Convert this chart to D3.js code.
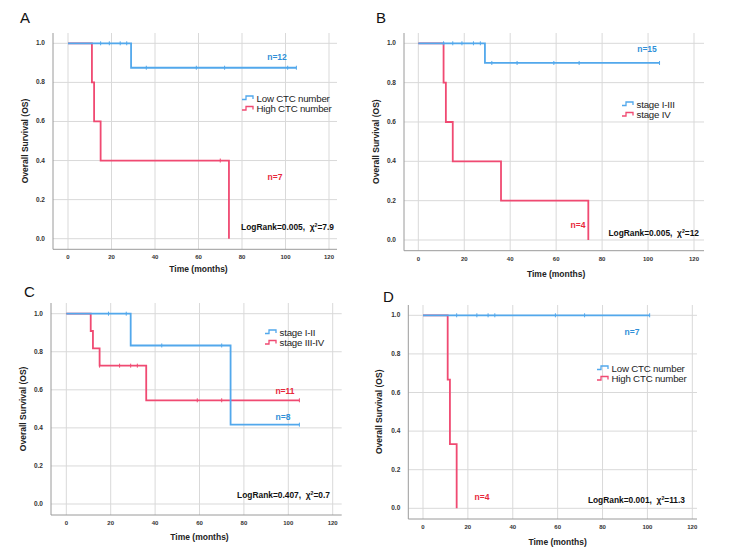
<!DOCTYPE html>
<html><head><meta charset="utf-8">
<script src="https://cdn.jsdelivr.net/npm/d3@7"></script>
<style>body{margin:0;background:#fff}svg{display:block}</style>
</head><body>
<script>
// ---------- data ----------
const xTicks = [0, 20, 40, 60, 80, 100, 120];
const yTicks = [0, 0.2, 0.4, 0.6, 0.8, 1.0];

// Panel A
const A_lowTime = [0, 29, 105];
const A_lowSurv = [1, 0.875, 0.875];
const A_lowCensT = [15, 19, 24, 27, 36, 59, 72, 101, 105];
const A_lowCensS = [1, 1, 1, 1, 0.875, 0.875, 0.875, 0.875, 0.875];
const A_highTime = [0, 11, 12, 15, 74];
const A_highSurv = [1, 0.8, 0.6, 0.4, 0];
const A_highCensT = [70];
const A_highCensS = [0.4];

// Panel B
const B_lowTime = [0, 29, 105];
const B_lowSurv = [1, 0.9, 0.9];
const B_lowCensT = [11, 15, 19, 24, 27, 32, 43, 59, 70, 105];
const B_lowCensS = [1, 1, 1, 1, 1, 0.9, 0.9, 0.9, 0.9, 0.9];
const B_highTime = [0, 11, 12, 15, 36, 74];
const B_highSurv = [1, 0.8, 0.6, 0.4, 0.2, 0];
const B_highCensT = [];
const B_highCensS = [];

// Panel C
const C_lowTime = [0, 29, 74, 105];
const C_lowSurv = [1, 0.833, 0.417, 0.417];
const C_lowCensT = [19, 27, 43, 70, 105];
const C_lowCensS = [1, 1, 0.833, 0.833, 0.417];
const C_highTime = [0, 11, 12, 15, 36, 105];
const C_highSurv = [1, 0.909, 0.818, 0.727, 0.545, 0.545];
const C_highCensT = [15, 24, 29, 32, 59, 70, 105];
const C_highCensS = [0.727, 0.727, 0.727, 0.727, 0.545, 0.545, 0.545];

// Panel D
const D_lowTime = [0, 101];
const D_lowSurv = [1, 1];
const D_lowCensT = [15, 24, 29, 32, 59, 72, 101];
const D_lowCensS = [1, 1, 1, 1, 1, 1, 1];
const D_highTime = [0, 11, 12, 15];
const D_highSurv = [1, 0.667, 0.333, 0];
const D_highCensT = [];
const D_highCensS = [];

const panelLetters = ["A", "B", "C", "D"];
const legendA = ["Low CTC number", "High CTC number"];
const legendB = ["stage I-III", "stage IV"];
const legendC = ["stage I-II", "stage III-IV"];
const legendD = ["Low CTC number", "High CTC number"];
const nLowLabels = ["n=12", "n=15", "n=8", "n=7"];
const nHighLabels = ["n=7", "n=4", "n=11", "n=4"];
const logRankP = ["0.005", "0.005", "0.407", "0.001"];
const chiSq = ["7.9", "12", "0.7", "11.3"];

// ---------- layout ----------
const BLUE = "#52a8ec", RED = "#f04a72";
const layouts = [
  {ax:53, top:33, axY:249.3, right:337, x0:68, x1:329, y0:238.7, y1:43.3,
   letter:[20,23], ytitleX:25, xtitleY:272, nLow:[277,60], nHigh:[275,180], lr:[334,230], leg:[242,98]},
  {ax:404, top:33, axY:250.7, right:704, x0:418.3, x1:694, y0:240, y1:43.3,
   letter:[376,23], ytitleX:376, xtitleY:277, nLow:[647,52], nHigh:[578,228], lr:[699,236], leg:[622,104]},
  {ax:51, top:303, axY:515, right:341.7, x0:66.3, x1:332.7, y0:504, y1:313.7,
   letter:[24,297], ytitleX:23, xtitleY:540, nLow:[283,420], nHigh:[285,394], lr:[330,498], leg:[265,332]},
  {ax:408.3, top:305, axY:519, right:697, x0:423, x1:692.3, y0:508.3, y1:315.3,
   letter:[383,302], ytitleX:379, xtitleY:545, nLow:[632,335], nHigh:[482,500], lr:[685,503], leg:[597,368]}
];

const panels = [
  {low:[A_lowTime,A_lowSurv,A_lowCensT,A_lowCensS], high:[A_highTime,A_highSurv,A_highCensT,A_highCensS], legend:legendA},
  {low:[B_lowTime,B_lowSurv,B_lowCensT,B_lowCensS], high:[B_highTime,B_highSurv,B_highCensT,B_highCensS], legend:legendB},
  {low:[C_lowTime,C_lowSurv,C_lowCensT,C_lowCensS], high:[C_highTime,C_highSurv,C_highCensT,C_highCensS], legend:legendC},
  {low:[D_lowTime,D_lowSurv,D_lowCensT,D_lowCensS], high:[D_highTime,D_highSurv,D_highCensT,D_highCensS], legend:legendD}
];

const svg = d3.select("body").append("svg").attr("width", 729).attr("height", 559)
  .style("font-family", "'Liberation Sans', Arial, sans-serif");

panels.forEach((p, i) => {
  const L = layouts[i];
  const g = svg.append("g");
  const x = d3.scaleLinear().domain([0, 120]).range([L.x0, L.x1]);
  const y = d3.scaleLinear().domain([0, 1]).range([L.y0, L.y1]);

  // grid
  g.selectAll(".vg").data(xTicks).join("line")
    .attr("x1", d => x(d)).attr("x2", d => x(d)).attr("y1", L.top).attr("y2", L.axY)
    .attr("stroke", "#d9d9d9").attr("stroke-width", 1);
  g.selectAll(".hg").data(yTicks).join("line")
    .attr("x1", L.ax).attr("x2", L.right).attr("y1", d => y(d)).attr("y2", d => y(d))
    .attr("stroke", "#d9d9d9").attr("stroke-width", 1);

  // axes lines
  g.append("line").attr("x1", L.ax).attr("x2", L.ax).attr("y1", L.top).attr("y2", L.axY)
    .attr("stroke", "#9a9a9a").attr("stroke-width", 1);
  g.append("line").attr("x1", L.ax).attr("x2", L.right).attr("y1", L.axY).attr("y2", L.axY)
    .attr("stroke", "#9a9a9a").attr("stroke-width", 1);

  // tick labels
  g.selectAll(".xt").data(xTicks).join("text")
    .attr("x", d => x(d)).attr("y", L.axY + 10).attr("text-anchor", "middle")
    .attr("font-size", 6).attr("font-weight", "bold").attr("fill", "#333").text(d => d);
  g.selectAll(".yt").data(yTicks).join("text")
    .attr("x", L.ax - 8).attr("y", d => y(d) + 2).attr("text-anchor", "end")
    .attr("font-size", 6.5).attr("font-weight", "bold").attr("fill", "#333").text(d => d.toFixed(1));

  // titles
  g.append("text").attr("x", (L.x0 + L.x1) / 2).attr("y", L.xtitleY).attr("text-anchor", "middle")
    .attr("font-size", 8.5).attr("font-weight", "bold").attr("fill", "#222").text("Time (months)");
  g.append("text").attr("transform", `translate(${L.ytitleX},${(L.y0 + L.y1) / 2}) rotate(-90)`)
    .attr("text-anchor", "middle").attr("dy", "0.35em")
    .attr("font-size", 8.5).attr("font-weight", "bold").attr("fill", "#222").text("Overall Survival (OS)");
  g.append("text").attr("x", L.letter[0]).attr("y", L.letter[1]).attr("font-size", 15)
    .attr("fill", "#111").text(panelLetters[i]);

  // curves
  const line = d3.line().x(d => x(d[0])).y(d => y(d[1])).curve(d3.curveStepAfter);
  [[p.high, RED], [p.low, BLUE]].forEach(([s, col]) => {
    const pts = s[0].map((t, k) => [t, s[1][k]]);
    g.append("path").attr("d", line(pts)).attr("fill", "none").attr("stroke", col).attr("stroke-width", 1.8);
    g.selectAll(null).data(s[2].map((t, k) => [t, s[3][k]])).join("line")
      .attr("x1", d => x(d[0])).attr("x2", d => x(d[0]))
      .attr("y1", d => y(d[1]) - 2).attr("y2", d => y(d[1]) + 2)
      .attr("stroke", col).attr("stroke-width", 1);
  });

  // n labels
  g.append("text").attr("x", L.nLow[0]).attr("y", L.nLow[1]).attr("text-anchor", "middle")
    .attr("font-size", 8.5).attr("font-weight", "bold").attr("fill", "#2f8fd8").text(nLowLabels[i]);
  g.append("text").attr("x", L.nHigh[0]).attr("y", L.nHigh[1]).attr("text-anchor", "middle")
    .attr("font-size", 8.5).attr("font-weight", "bold").attr("fill", "#e8283c").text(nHighLabels[i]);

  // log rank
  const lr = g.append("text").attr("x", L.lr[0]).attr("y", L.lr[1]).attr("text-anchor", "end")
    .attr("font-size", 8.4).attr("font-weight", "bold").attr("fill", "#111")
    .style("white-space", "pre");
  lr.append("tspan").text(`LogRank=${logRankP[i]},  χ`);
  lr.append("tspan").attr("font-size", 5.2).attr("dy", -3.5).text("2");
  lr.append("tspan").attr("dy", 3.5).text(`=${chiSq[i]}`);

  // legend
  [[BLUE, p.legend[0]], [RED, p.legend[1]]].forEach(([col, txt], k) => {
    const lx = L.leg[0], ly = L.leg[1] + k * 10.5;
    g.append("path").attr("d", `M${lx},${ly + 1.5}H${lx + 4}V${ly - 2}H${lx + 11}V${ly + 1}`)
      .attr("fill", "none").attr("stroke", col).attr("stroke-width", 1.3);
    g.append("text").attr("x", lx + 14.5).attr("y", ly + 3.5).attr("font-size", 9.7)
      .attr("fill", "#222").attr("letter-spacing", -0.2).text(txt);
  });
});
</script>
</body></html>
